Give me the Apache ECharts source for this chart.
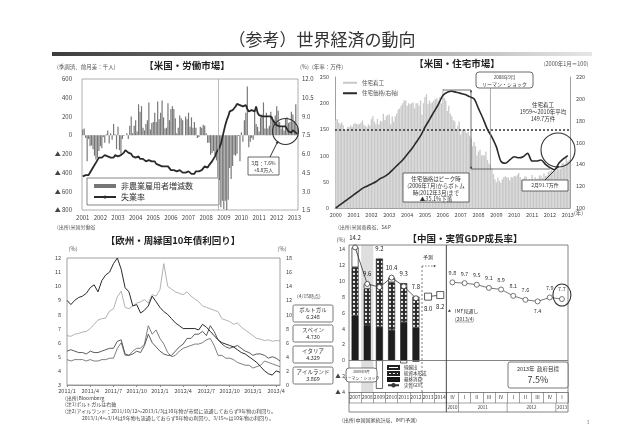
<!DOCTYPE html>
<html><head><meta charset="utf-8">
<script src="https://cdn.jsdelivr.net/npm/echarts/dist/echarts.min.js"></script>
<style>html,body{margin:0;padding:0;background:#fff}#c{width:644px;height:445px}</style>
</head><body><div id="c"></div>
<script>
// ---------------- DATA ----------------
// US labor market, monthly 2001-01 .. 2013-03
const payroll = [
 60,70,-30,-280,-40,-120,-110,-150,-220,-260,-240,-170,
 -120,-140,-20,-80,10,50,-90,20,-50,120,10,-150,
 90,-160,-200,-40,-10,0,20,-40,100,200,20,100,
 160,40,330,250,310,80,50,120,160,350,60,130,
 140,240,140,360,170,240,370,190,70,80,340,160,
 280,310,280,180,20,80,210,180,160,0,200,170,
 240,90,190,80,140,80,-30,-20,90,80,110,100,
 20,-80,-80,-210,-190,-170,-210,-270,-450,-480,-770,-700,
 -790,-700,-800,-690,-350,-470,-330,-210,-220,-200,-10,-280,
 30,-70,160,240,520,-130,-70,-30,-50,260,120,90,
 40,190,220,350,70,240,70,100,250,200,150,210,
 310,260,140,70,90,50,180,190,130,140,250,220,
 150,330,90];
const unemp = [
 4.2,4.2,4.3,4.4,4.3,4.5,4.6,4.9,5.0,5.3,5.5,5.7,
 5.7,5.7,5.7,5.9,5.8,5.8,5.8,5.7,5.7,5.7,5.9,6.0,
 5.8,5.9,5.9,6.0,6.1,6.3,6.2,6.1,6.1,6.0,5.8,5.7,
 5.7,5.6,5.8,5.6,5.6,5.6,5.5,5.4,5.4,5.5,5.4,5.4,
 5.3,5.4,5.2,5.2,5.1,5.0,5.0,4.9,5.0,5.0,5.0,4.9,
 4.7,4.8,4.7,4.7,4.6,4.6,4.7,4.7,4.5,4.4,4.5,4.4,
 4.6,4.5,4.4,4.5,4.4,4.6,4.7,4.6,4.7,4.7,4.7,5.0,
 5.0,4.9,5.1,5.0,5.4,5.6,5.8,6.1,6.1,6.5,6.8,7.3,
 7.8,8.3,8.7,9.0,9.4,9.5,9.5,9.6,9.8,10.0,9.9,9.9,
 9.8,9.8,9.9,9.9,9.6,9.4,9.4,9.5,9.5,9.4,9.8,9.3,
 9.1,9.0,9.0,9.1,9.0,9.1,9.0,9.0,9.0,8.8,8.6,8.5,
 8.3,8.3,8.2,8.2,8.2,8.2,8.2,8.1,7.8,7.8,7.7,7.9,
 7.9,7.7,7.6];
const laborStart = 2001, laborCount = payroll.length;
const lehmanMonth = '2008-09';

// US housing, monthly 2000-01 .. 2013-02 (starts, 万件 annual rate)
const starts = [
 167,170,163,160,163,158,150,150,155,154,158,155,
 160,162,160,160,160,163,167,158,157,154,160,157,
 170,175,165,160,170,160,166,165,180,168,175,178,
 178,160,175,165,175,180,188,190,195,200,205,205,
 195,200,198,200,202,190,200,200,195,205,178,200,
 212,217,198,205,200,202,205,208,210,205,212,200,
 227,210,205,185,195,180,175,168,165,148,157,165,
 140,150,150,150,143,145,138,133,118,126,118,100,
 108,111,100,101,100,108,92,85,82,75,65,55,
 49,58,52,48,55,59,60,58,58,53,59,58,
 61,60,63,67,59,54,55,60,60,52,55,52,
 63,52,59,55,56,62,62,57,66,61,62,69,
 70,72,70,74,71,75,74,75,85,86,83,98,
 89,92];
// house price index (2000/1=100), quarterly: Jan/Apr/Jul/Oct 2000 .. Jan 2013
const housePriceQ = [
 100,103,106,109, 112,115,118,120, 122,124,127,129, 132,136,140,144,
 149,154,160,166, 174,181,188,195, 203,206,207,206, 205,204,202,200,
 191,182,172,165, 156,143,141,144, 147,146,147,150, 143,143,144,140,
 137,135,141,145, 148];
const startsAvg = 149.7;
const housingStart = 2000;

// Euro periphery 10y yields, semi-monthly from 2011/1 (x in months since 2011/1)
const ireland = [9.0,8.7,9.0,9.2,9.3,9.5,9.9,10.1,9.6,10.4, 10.8,11.0,11.6,12.0,11.2,9.9,9.6,8.6,8.7,8.1,
 8.3,8.6,9.3,8.9,8.5,8.2,8.0,7.7,7.4,7.2, 7.0,7.0,7.0,7.0,6.9,7.3,7.1,6.8,6.5,6.2,
 6.0,5.9,5.8,5.7,5.5,5.3,5.2,5.0,4.8,4.6, 4.3,4.0,3.8,3.7,4.0,3.9];
const spain = [5.4,5.5,5.4,5.3,5.3,5.2,5.4,5.3,5.3,5.4, 5.5,5.6,5.6,6.1,6.2,5.2,5.1,5.2,5.4,5.3,
 5.8,6.6,6.0,5.7,5.4,5.2,5.1,5.1,5.4,5.7, 5.9,6.3,6.3,6.6,6.6,6.8,6.5,7.2,6.8,6.2,
 5.9,5.7,5.6,5.7,5.8,5.6,5.4,5.3,5.1,5.2, 5.2,5.1,4.9,5.0,4.9,4.7];
const italy = [4.8,4.7,4.8,4.8,4.8,4.7,4.8,4.7,4.7,4.8, 4.8,4.9,4.9,5.6,6.0,5.1,5.1,5.4,5.6,5.6,
 5.9,7.2,6.6,6.9,6.3,5.9,5.3,5.0,5.1,5.4, 5.6,5.7,5.8,5.9,5.9,6.0,6.2,6.3,5.8,5.1,
 5.1,4.9,4.9,4.8,4.6,4.5,4.4,4.4,4.2,4.3, 4.4,4.7,4.6,4.5,4.4,4.3];
const portugal = [7.0,6.9,7.2,7.3,7.5,7.6,8.0,8.6,9.2,9.4, 9.5,10.5,10.8,12.5,13.3,11.0,10.8,11.2,11.6,11.8,
 12.1,11.6,12.8,12.6,13.5,17.2,14.0,13.6,13.2,13.0, 12.8,13.2,12.6,12.2,11.8,11.2,11.0,10.8,10.6,10.4,
 9.4,9.2,9.0,8.6,8.8,8.2,7.8,7.4,7.0,6.6, 6.5,6.3,6.4,6.2,6.3,6.25];
const bondStep = 0.5;
const bondLatest = [['ポルトガル','6.248'],['スペイン','4.730'],['イタリア','4.329'],['アイルランド','3.869']];

// China real GDP
const chinaCats = ['2007','2008','2009','2010','2011','2012','2013','2014','Ⅳ','Ⅰ','Ⅱ','Ⅲ','Ⅳ','Ⅰ','Ⅱ','Ⅲ','Ⅳ','Ⅰ'];
const consumption = [5.6,4.4,4.2,3.8,4.8,4.1];
const capital     = [6.1,4.6,8.6,6.0,4.9,3.9];
const netExports  = [2.5,0.6,-3.6,0.6,-0.4,-0.2];
const gdpAnnual   = [14.2,9.6,9.2,10.4,9.3,7.8];
const gdpForecast = [8.0,8.2];
const gdpQuarterly= [9.8,9.7,9.5,9.1,8.9,8.1,7.6,7.4,7.9,7.7];
const qYearLabels = ['2010','2011','2012','2013'];
const qYearSpans  = [1,4,4,1];

// ---------------- BUILD ----------------
const FF = '"Noto Sans CJK JP","Noto Sans",sans-serif';
const laborMonths = [];
for (let i = 0; i < laborCount; i++) { const y = laborStart + Math.floor(i/12), m = i%12+1; laborMonths.push(y + '-' + (m<10?'0':'') + m); }
const housingMonths = [];
for (let i = 0; i < starts.length; i++) { const y = housingStart + Math.floor(i/12), m = i%12+1; housingMonths.push(y + '-' + (m<10?'0':'') + m); }
const housePriceM = new Array(starts.length).fill(null);
housePriceQ.forEach((v,i)=>{ housePriceM[i*3] = v; });
const bondXY = arr => arr.map((v,i)=>[i*bondStep, v]);

const nCat = chinaCats.length;
const pad = (arr, start) => { const a = new Array(nCat).fill(null); arr.forEach((v,i)=>{ a[start+i] = v; }); return a; };
const nFirstQ = 8;

// pattern for capital formation
const pc = document.createElement('canvas'); pc.width = 4; pc.height = 4;
const g = pc.getContext('2d'); g.fillStyle = '#2a2a2a'; g.fillRect(0,0,4,4);
g.fillStyle = '#f4f4f4'; g.beginPath(); g.arc(2,2,1.15,0,Math.PI*2); g.fill();

const chinaMin = -4, chinaMax = 14.5, chinaGridH = 147;
const pxPerUnit = chinaGridH / (chinaMax - chinaMin);
const annualItems = gdpAnnual.map((v,i)=>{
  const top = consumption[i] + capital[i] + Math.max(netExports[i],0);
  const off = top > v ? (top - v) * pxPerUnit : 0;
  return {value: v, label: {offset: [0, -off]}};
});
const quarterlyItems = gdpQuarterly.map((v,i,a)=>{
  const low = i>0 && i<a.length-1 && v < a[i-1] && v < a[i+1];
  return {value: v, label: {position: low ? 'bottom' : 'top'}};
});
const annualData = new Array(nCat).fill(null); annualItems.forEach((d,i)=>annualData[i]=d);
const quarterlyData = new Array(nCat).fill(null); quarterlyItems.forEach((d,i)=>quarterlyData[nFirstQ+i]=d);

const axLbl = {fontSize:6, color:'#444', fontFamily:FF};
const negFmt = v => v < 0 ? '▲ ' + (-v) : String(v);
const noLine = {show:false};

const chart = echarts.init(document.getElementById('c'), null, {renderer:'canvas'});

const option = {
  animation:false,
  backgroundColor:'#fff',
  textStyle:{fontFamily:FF},
  grid:[
    {left:82, top:79, width:216, height:131, show:true, borderColor:'#999', borderWidth:0.8, containLabel:false, outerBoundsMode:'none'},
    {left:335, top:77, width:235, height:131, show:false, containLabel:false, outerBoundsMode:'none'},
    {left:67, top:258, width:213, height:127, show:true, borderColor:'#888', borderWidth:0.8, containLabel:false, outerBoundsMode:'none'},
    {left:349, top:245, width:219, height:chinaGridH, show:false, containLabel:false, outerBoundsMode:'none'}
  ],
  xAxis:[
    {type:'category', gridIndex:0, data:laborMonths, axisLine:noLine, axisTick:{show:false},
     axisLabel:Object.assign({}, axLbl, {interval:(i)=>i%12===0, formatter:v=>v.slice(0,4), margin:5})},
    {type:'category', gridIndex:1, data:housingMonths, axisLine:{show:true, lineStyle:{color:'#888', width:0.8}}, axisTick:{show:false},
     axisLabel:Object.assign({}, axLbl, {fontSize:5.5, interval:(i)=>i%12===0, formatter:v=>v.slice(0,4), margin:4})},
    {type:'value', gridIndex:2, min:0, max:27.5, interval:3, splitLine:{show:false},
     axisLine:{show:true, lineStyle:{color:'#888', width:0.8}}, axisTick:{show:true, length:2, lineStyle:{color:'#888'}},
     axisLabel:Object.assign({}, axLbl, {fontSize:5.5, margin:3, showMaxLabel:false, formatter:v=>(2011+Math.floor(v/12))+'/'+(v%12+1)})},
    {type:'category', gridIndex:3, data:chinaCats, axisLine:{show:true, onZero:false, lineStyle:{color:'#666', width:0.8}},
     axisTick:{show:true, interval:0, length:11, lineStyle:{color:'#666', width:0.6}},
     axisLabel:Object.assign({}, axLbl, {fontSize:5, interval:0, margin:3})}
  ],
  yAxis:[
    {type:'value', gridIndex:0, min:-800, max:600, interval:200, splitLine:{show:false}, axisLine:noLine, axisTick:{show:false},
     axisLabel:Object.assign({}, axLbl, {formatter:negFmt, margin:10})},
    {type:'value', gridIndex:0, position:'right', min:1.5, max:12, interval:1.5, splitLine:{show:false}, axisLine:noLine, axisTick:{show:false},
     axisLabel:Object.assign({}, axLbl, {formatter:v=>v.toFixed(1), margin:4})},
    {type:'value', gridIndex:1, min:0, max:250, interval:50, splitLine:{show:false}, axisLine:{show:true, lineStyle:{color:'#888', width:0.8}}, axisTick:{show:false},
     axisLabel:Object.assign({}, axLbl, {fontSize:5.5, margin:6})},
    {type:'value', gridIndex:1, position:'right', min:100, max:220, interval:20, splitLine:{show:false}, axisLine:{show:true, lineStyle:{color:'#888', width:0.8}}, axisTick:{show:false},
     axisLabel:Object.assign({}, axLbl, {fontSize:5.5, margin:6})},
    {type:'value', gridIndex:2, min:3, max:12, interval:1, splitLine:{show:false}, axisLine:noLine, axisTick:{show:false},
     axisLabel:Object.assign({}, axLbl, {fontSize:5.5, margin:6})},
    {type:'value', gridIndex:2, position:'right', min:0, max:18, interval:2, splitLine:{show:false}, axisLine:noLine, axisTick:{show:false},
     axisLabel:Object.assign({}, axLbl, {fontSize:5.5, margin:6})},
    {type:'value', gridIndex:3, min:chinaMin, max:chinaMax, interval:2, splitLine:{show:false}, axisLine:noLine, axisTick:{show:false},
     axisLabel:Object.assign({}, axLbl, {fontSize:5.5, margin:4, showMaxLabel:false, formatter:negFmt})}
  ],
  legend:[
    {data:[{name:'非農業雇用者増減数', icon:'rect'}, '失業率'], left:87, top:178, orient:'vertical', itemGap:3,
     itemWidth:22, itemHeight:4, padding:[4,26,4,6], borderColor:'#666', borderWidth:0.8, backgroundColor:'#fff',
     textStyle:{fontSize:8, color:'#333', fontFamily:FF}, selectedMode:false},
    {data:[{name:'住宅着工', icon:'rect'}, '住宅価格(右軸)'], left:342, top:80, orient:'vertical', itemGap:5,
     itemWidth:14, itemHeight:2, padding:0, textStyle:{fontSize:5.5, color:'#555', fontFamily:FF}, selectedMode:false},
    {data:[{name:'純輸出', icon:'rect'}, {name:'総資本形成', icon:'rect'}, {name:'最終消費', icon:'rect'}, '実質GDP'],
     left:387, top:365, orient:'vertical', itemGap:1, itemWidth:11, itemHeight:3, padding:0,
     textStyle:{fontSize:4.5, color:'#333', fontFamily:FF}, selectedMode:false}
  ],
  series:[
    {name:'非農業雇用者増減数', type:'bar', xAxisIndex:0, yAxisIndex:0, data:payroll, barCategoryGap:'20%', silent:true,
     itemStyle:{color:'#767676'},
     markLine:{silent:true, symbol:'none', label:{show:false}, lineStyle:{color:'#aaa', width:0.8, type:'solid'}, data:[{xAxis:lehmanMonth}]}},
    {name:'失業率', type:'line', xAxisIndex:0, yAxisIndex:1, data:unemp, symbol:'none', silent:true,
     lineStyle:{color:'#2a2a2a', width:1.8}, itemStyle:{color:'#2a2a2a'}},
    {name:'住宅着工', type:'bar', xAxisIndex:1, yAxisIndex:2, data:starts, barCategoryGap:'12%', silent:true,
     itemStyle:{color:'#c8c8c8'},
     markLine:{silent:true, symbol:'none', label:{show:false}, lineStyle:{color:'#333', width:1.5, type:[2,2]}, data:[{yAxis:startsAvg}]}},
    {name:'住宅価格(右軸)', type:'line', xAxisIndex:1, yAxisIndex:3, data:housePriceM, connectNulls:true, smooth:0.3, symbol:'none', silent:true,
     lineStyle:{color:'#2a2a2a', width:1.6}, itemStyle:{color:'#2a2a2a'}},
    {name:'ポルトガル', type:'line', xAxisIndex:2, yAxisIndex:5, data:bondXY(portugal), symbol:'none', silent:true,
     lineStyle:{color:'#a9a9a9', width:0.9}},
    {name:'イタリア', type:'line', xAxisIndex:2, yAxisIndex:4, data:bondXY(italy), symbol:'none', silent:true,
     lineStyle:{color:'#707070', width:0.9}},
    {name:'スペイン', type:'line', xAxisIndex:2, yAxisIndex:4, data:bondXY(spain), symbol:'none', silent:true,
     lineStyle:{color:'#4a4a4a', width:0.9}},
    {name:'アイルランド', type:'line', xAxisIndex:2, yAxisIndex:4, data:bondXY(ireland), symbol:'none', silent:true,
     lineStyle:{color:'#2a2a2a', width:1.0}},
    {name:'最終消費', type:'bar', xAxisIndex:3, yAxisIndex:6, stack:'g', data:pad(consumption,0), barWidth:7, silent:true,
     itemStyle:{color:'#1e1e1e', borderColor:'#111', borderWidth:0.5},
     markLine:{silent:true, symbol:'none', label:{show:false}, lineStyle:{color:'#666', width:0.8, type:'solid'}, data:[{yAxis:0}]}},
    {name:'総資本形成', type:'bar', xAxisIndex:3, yAxisIndex:6, stack:'g', data:pad(capital,0), barWidth:7, silent:true,
     itemStyle:{color:{image:pc, repeat:'repeat'}, borderColor:'#222', borderWidth:0.6}},
    {name:'純輸出', type:'bar', xAxisIndex:3, yAxisIndex:6, stack:'g', data:pad(netExports,0), barWidth:7, silent:true,
     itemStyle:{color:'#fff', borderColor:'#222', borderWidth:0.7}},
    {name:'実質GDP', type:'line', xAxisIndex:3, yAxisIndex:6, data:annualData, symbol:'circle', symbolSize:5, silent:true, z:5,
     itemStyle:{color:'#fff', borderColor:'#333', borderWidth:0.8}, lineStyle:{color:'#333', width:0.8},
     label:{show:true, position:'top', distance:4, fontSize:6, color:'#222', fontFamily:FF, formatter:p=>p.value.toFixed(1)}},
    {name:'予測', type:'line', xAxisIndex:3, yAxisIndex:6, data:pad(gdpForecast,6), symbol:'rect', symbolSize:7, silent:true, z:5,
     itemStyle:{color:'#fff', borderColor:'#333', borderWidth:0.8}, lineStyle:{color:'#333', width:0.8},
     label:{show:true, position:'bottom', distance:5, fontSize:6, color:'#222', fontFamily:FF, formatter:p=>p.value.toFixed(1)}},
    {name:'実質GDP(四半期)', type:'line', xAxisIndex:3, yAxisIndex:6, data:quarterlyData, symbol:'circle', symbolSize:5, silent:true, z:5,
     itemStyle:{color:'#fff', borderColor:'#555', borderWidth:0.8}, lineStyle:{color:'#555', width:0.8},
     label:{show:true, distance:4, fontSize:5.5, color:'#333', fontFamily:FF, formatter:p=>p.value.toFixed(1)}}
  ]
};
chart.setOption(option);

// ---------------- ANNOTATIONS ----------------
function T(text, x, y, size, o) {
  o = o || {};
  return {type:'text', silent:true, z:50, style:{text:text, x:x, y:y, fontSize:size, fontFamily:FF, fontWeight:o.bold?'bold':'normal',
    fill:o.fill||'#333', textAlign:o.align||'center', textVerticalAlign:'middle', align:o.align||'center', verticalAlign:'middle'}};
}
function R(x, y, w, h, o) {
  o = o || {};
  return {type:'rect', silent:true, z:o.z||40, shape:{x:x, y:y, width:w, height:h, r:o.r||0},
    style:{fill:o.fill||'none', stroke:o.stroke===undefined?'#444':o.stroke, lineWidth:o.lw||0.8}};
}
function L(x1, y1, x2, y2, o) {
  o = o || {};
  return {type:'line', silent:true, z:o.z||45, shape:{x1:x1, y1:y1, x2:x2, y2:y2},
    style:{stroke:o.stroke||'#333', lineWidth:o.lw||0.8, lineDash:o.dash||null}};
}
function AH(x, y, ang, s) { // arrow head at (x,y) pointing along ang
  s = s || 3;
  const a1 = ang + Math.PI*0.85, a2 = ang - Math.PI*0.85;
  return {type:'polygon', silent:true, z:46, shape:{points:[[x,y],[x+s*Math.cos(a1), y+s*Math.sin(a1)],[x+s*Math.cos(a2), y+s*Math.sin(a2)]]},
    style:{fill:'#333'}};
}
function Circ(cx, cy, r, lw) { return {type:'circle', silent:true, z:44, shape:{cx:cx, cy:cy, r:r}, style:{fill:'none', stroke:'#333', lineWidth:lw||1.1}}; }

const cpx = i => chart.convertToPixel({xAxisIndex:3}, i);
const cpy = v => chart.convertToPixel({yAxisIndex:6}, v);
const band = cpx(1) - cpx(0);
const G = [];

// slide title + bar
G.push(T('（参考）世界経済の動向', 322, 40, 17, {fill:'#333'}));
G.push({type:'rect', silent:true, z:30, shape:{x:52, y:52, width:540, height:4},
  style:{fill:new echarts.graphic.LinearGradient(0,0,1,0,[{offset:0,color:'#3c3c3c'},{offset:0.55,color:'#9a9a9a'},{offset:1,color:'#e6e6e6'}])}});

// chart titles
G.push(T('【米国・労働市場】', 187, 65, 9.5, {bold:true, fill:'#222'}));
G.push(T('【米国・住宅市場】', 457, 63, 9.5, {bold:true, fill:'#222'}));
G.push(T('【欧州・周縁国10年債利回り】', 173, 240, 9.5, {bold:true, fill:'#222'}));
G.push(T('【中国・実質GDP成長率】', 465, 238, 9.5, {bold:true, fill:'#222'}));

// units
G.push(T('(季調済、前月差：千人)', 57, 67, 5.5, {align:'left', fill:'#555'}));
G.push(T('(%)', 300, 67, 5.5, {align:'left', fill:'#555'}));
G.push(T('(年率：万件)', 312, 67, 5.5, {align:'left', fill:'#555'}));
G.push(T('(2000年1月＝100)', 566, 64, 5.5, {fill:'#555'}));
G.push(T('(年)', 574, 213, 5.5, {align:'left', fill:'#555'}));
G.push(T('(%)', 73, 249, 5.5, {fill:'#555'}));
G.push(T('(%)', 282, 249, 5.5, {fill:'#555'}));
G.push(T('(%)', 341, 240, 5.5, {fill:'#555'}));

// sources
G.push(T('(出所)米国労働省', 57, 227, 5, {align:'left', fill:'#555'}));
G.push(T('(出所)米国商務省、S&P', 338, 227, 5, {align:'left', fill:'#555'}));
G.push(T('(出所)Bloomberg', 65, 398, 5, {align:'left', fill:'#444'}));
G.push(T('(注1)ポルトガルは右軸', 65, 404, 5, {align:'left', fill:'#444'}));
G.push(T('(注2)アイルランド：2011/10/12～2013/1/3は10年物が市場に流通しておらず9年物の利回り。', 65, 411, 5, {align:'left', fill:'#444'}));
G.push(T('2013/1/4～3/14は9年物も流通しておらず8年物の利回り、3/15～は10年物の利回り。', 82, 418, 5, {align:'left', fill:'#444'}));
G.push(T('(出所)中国国家統計局、IMF(予測)', 342, 420, 5, {align:'left', fill:'#444'}));
G.push(T('3', 588, 422, 5, {fill:'#888'}));

// labor annotation
G.push(Circ(285.5, 131.5, 13));
G.push(R(248, 157, 31, 18, {fill:'#fff', stroke:'#444'}));
G.push(T('3月：7.6%', 263.5, 163, 5));
G.push(T('+8.8万人', 263.5, 170, 5));
G.push(L(270, 157, 278, 141, {lw:1}));
G.push(AH(278, 141, Math.atan2(-16, 8), 3));

// housing annotations
G.push(R(476, 72, 57, 16, {r:3, fill:'#fff'}));
G.push(T('2008年9月', 504.5, 77, 4.5));
G.push(T('リーマン・ショック', 504.5, 84, 5));
const lehX = chart.convertToPixel({xAxisIndex:1}, housingMonths.indexOf(lehmanMonth));
G.push(L(lehX, 88, lehX, 169, {stroke:'#888', lw:0.7}));
G.push(L(443, 90, 471, 90, {lw:0.7}));
G.push(L(471, 90, 471, 169, {lw:0.7}));
G.push(AH(471, 90, -Math.PI/2, 2.5));
G.push(AH(471, 169, Math.PI/2, 2.5));
G.push(L(471, 169, 550, 169, {lw:0.7}));
G.push(T('住宅着工', 543, 105, 5.5));
G.push(T('1959～2010年平均', 543, 112, 5.5));
G.push(T('149.7万件', 543, 119, 5.5));
G.push(R(403, 173, 66, 29, {fill:'#fff'}));
G.push(T('住宅価格はピーク時', 436, 179, 5.5));
G.push(T('(2006年7月)からボトム', 436, 186, 5.5));
G.push(T('時(2012年3月)まで', 436, 193, 5.5));
G.push(T('▲35.1%下落', 436, 199, 5.5));
G.push(Circ(558, 150, 17));
G.push(R(522, 180, 46, 11, {fill:'#fff'}));
G.push(T('2月91.7万件', 545, 185.5, 5));
G.push(L(545, 180, 559, 166, {lw:1}));
G.push(AH(559, 166, Math.atan2(-14, 14), 3));

// bond boxes
G.push(T('(4/15時点)', 297, 296, 5, {align:'left', fill:'#444'}));
const boxTops = [305, 325, 346, 367];
bondLatest.forEach((b, i) => {
  G.push(R(293, boxTops[i], 40, 17, {r:1.5, fill:'#fff', stroke:'#555'}));
  G.push(T(b[0], 313, boxTops[i] + 5, 5.5));
  G.push(T(b[1], 313, boxTops[i] + 12, 5.5));
});

// china frame + table
const fL = 349, fR = 568, fT = 245, fB = 412, rowY = 403;
G.push(R(fL, fT, fR - fL, fB - fT, {stroke:'#666', z:20}));
G.push(L(fL, rowY, fR, rowY, {stroke:'#666', lw:0.6}));
// 2008 shading
G.push({type:'rect', silent:true, z:0, zlevel:0, shape:{x:cpx(1)-band/2, y:fT, width:band, height:cpy(chinaMin)-fT}, style:{fill:'#dedede'}});
// year row
let idx = nFirstQ;
qYearLabels.forEach((lab, k) => {
  const a = idx, b = idx + qYearSpans[k] - 1;
  G.push(T(lab, (cpx(a)+cpx(b))/2, (rowY+fB)/2, 4.5));
  if (k > 0) G.push(L(cpx(a)-band/2, rowY, cpx(a)-band/2, fB, {stroke:'#666', lw:0.6}));
  idx = b + 1;
});
const solidX = (cpx(nFirstQ-1)+cpx(nFirstQ))/2;
G.push(L(solidX, fT, solidX, fB, {stroke:'#333', lw:0.9}));
const dashX = (cpx(5)+cpx(6))/2;
G.push(L(dashX, 266, dashX, cpy(chinaMin), {stroke:'#444', lw:0.7, dash:[2,2]}));
G.push(T('予測', dashX + 6, 257, 5));
G.push(L(dashX, 266, dashX + 12, 266, {stroke:'#444', lw:0.7, dash:[1.5,1.5]}));
G.push(AH(dashX + 14, 266, 0, 2.5));
G.push(T('IMF見通し', 455, 311, 5, {align:'left'}));
G.push(T('(2013/4)', 455, 319, 5, {align:'left'}));
G.push(L(455, 322, 473, 322, {lw:0.4}));
G.push(AH(448, 312, Math.PI*0.8, 3));
// ellipse around latest quarter
const lastX = cpx(nCat-1), lastY = cpy(gdpQuarterly[gdpQuarterly.length-1]);
G.push({type:'ellipse', silent:true, z:44, shape:{cx:lastX, cy:lastY-4, rx:9, ry:11}, style:{fill:'none', stroke:'#333', lineWidth:1.1}});
// target box
G.push(R(508, 362, 60, 26, {r:2, fill:'#fff', stroke:'#555'}));
G.push(T('2013年  政府目標', 538, 369, 5.5));
G.push(T('7.5%', 538, 380, 9));
// lehman box china
G.push(R(346, 368, 31, 14, {r:3, fill:'#fff', stroke:'#555'}));
G.push(T('2008年9月', 361.5, 372, 3.5));
G.push(T('リーマン・ショック', 361.5, 378, 4));

chart.setOption({graphic:{elements:G}});
</script>
</body></html>
